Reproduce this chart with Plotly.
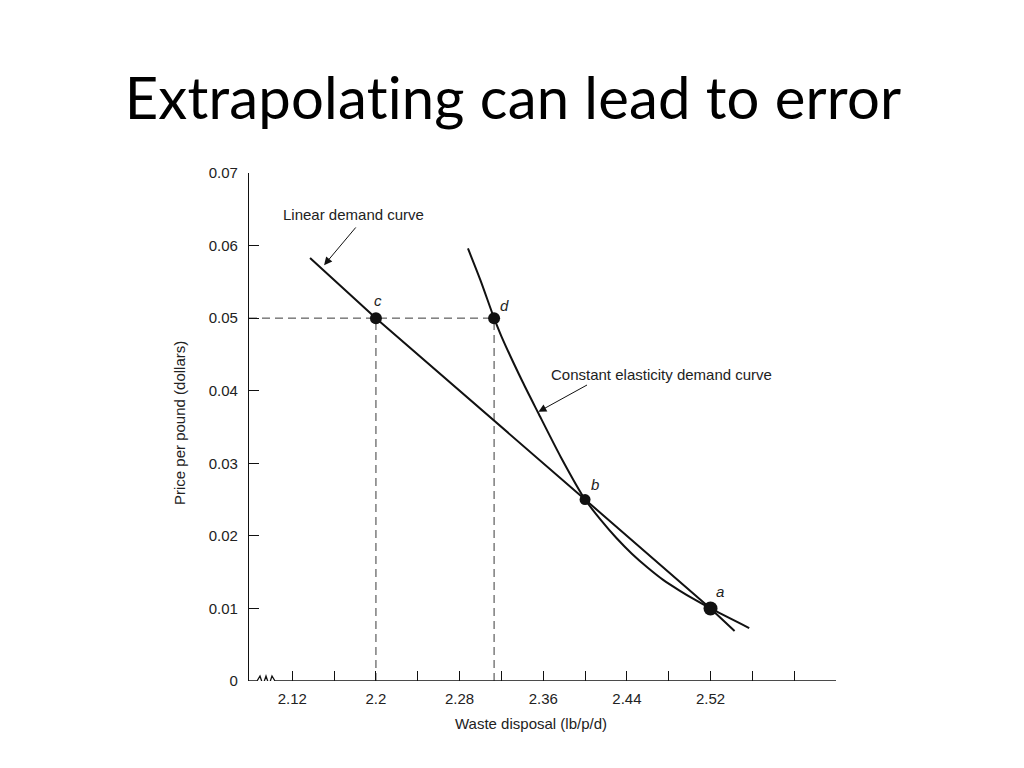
import plotly.graph_objects as go

# ---------------- data ----------------
linear_x = [2.137, 2.200, 2.400, 2.520, 2.543]
linear_y = [0.0583, 0.0500, 0.0250, 0.0100, 0.0069]

elastic_x = [2.288, 2.300, 2.313, 2.320, 2.340, 2.355, 2.377, 2.400,
             2.415, 2.430, 2.445, 2.460, 2.475, 2.490, 2.505, 2.520, 2.557]
elastic_y = [0.0596, 0.0552, 0.0500, 0.0475, 0.0413, 0.0370, 0.0308, 0.0250,
             0.0222, 0.0197, 0.0175, 0.0156, 0.0139, 0.0125, 0.0112, 0.0100, 0.0073]

point_names = ["c", "d", "b", "a"]
point_x = [2.200, 2.313, 2.400, 2.520]
point_y = [0.050, 0.050, 0.025, 0.010]

x_tick_vals = [2.12, 2.16, 2.20, 2.24, 2.28, 2.32, 2.36, 2.40, 2.44, 2.48, 2.52, 2.56, 2.60, 2.64]
x_tick_text = ["2.12", "", "2.2", "", "2.28", "", "2.36", "", "2.44", "", "2.52", "", "", ""]
y_tick_vals = [0, 0.01, 0.02, 0.03, 0.04, 0.05, 0.06, 0.07]
y_tick_text = ["0", "0.01", "0.02", "0.03", "0.04", "0.05", "0.06", "0.07"]

x_range = [2.0786, 2.64]
y_range = [0, 0.07]

title_text = "Extrapolating can lead to error"
x_title = "Waste disposal (lb/p/d)"
y_title = "Price per pound (dollars)"
linear_label = "Linear demand curve"
elastic_label = "Constant elasticity demand curve"

# ---------------- styles ----------------
INK = "#111111"
TXT = "#222222"
FONT = "Liberation Sans, Arial, sans-serif"
marker_sizes = [12, 12, 11, 14]
label_shift = [(2, 18), (10, 13), (10, 15), (9, 17)]

fig = go.Figure()

# dashed guide lines from c and d
c_x, d_x, cd_y = point_x[0], point_x[1], point_y[0]
dash_style = dict(color="#3a3a3a", width=1, dash="8px,5px")
fig.add_trace(go.Scatter(x=[x_range[0], d_x], y=[cd_y, cd_y], mode="lines",
                         line=dash_style, hoverinfo="skip", showlegend=False))
fig.add_trace(go.Scatter(x=[c_x, c_x], y=[0, cd_y], mode="lines",
                         line=dash_style, hoverinfo="skip", showlegend=False))
fig.add_trace(go.Scatter(x=[d_x, d_x], y=[0, cd_y], mode="lines",
                         line=dash_style, hoverinfo="skip", showlegend=False))

# curves
fig.add_trace(go.Scatter(x=linear_x, y=linear_y, mode="lines",
                         line=dict(color=INK, width=2), showlegend=False))
fig.add_trace(go.Scatter(x=elastic_x, y=elastic_y, mode="lines",
                         line=dict(color=INK, width=2, shape="spline", smoothing=0.7),
                         showlegend=False))

# points
fig.add_trace(go.Scatter(x=point_x, y=point_y, mode="markers",
                         marker=dict(color=INK, size=marker_sizes, opacity=1,
                                     line=dict(width=0)),
                         showlegend=False))

annotations = []
for name, px, py, (sx, sy) in zip(point_names, point_x, point_y, label_shift):
    annotations.append(dict(x=px, y=py, xref="x", yref="y", text=f"<i>{name}</i>",
                            showarrow=False, xshift=sx, yshift=sy,
                            font=dict(family=FONT, size=15, color=TXT)))

# curve labels
annotations.append(dict(x=2.1781, y=0.06435, xref="x", yref="y", text=linear_label,
                        xanchor="center", yanchor="middle",
                        showarrow=False, font=dict(family=FONT, size=15, color=TXT)))
annotations.append(dict(x=2.4733, y=0.0423, xref="x", yref="y", text=elastic_label,
                        xanchor="center", yanchor="middle",
                        showarrow=False, font=dict(family=FONT, size=15, color=TXT)))
# arrows
annotations.append(dict(x=2.1504, y=0.0573, ax=2.1819, ay=0.0627, xref="x", yref="y",
                        axref="x", ayref="y", text="", showarrow=True, arrowhead=2,
                        arrowsize=1.6, arrowwidth=1, arrowcolor=INK))
annotations.append(dict(x=2.3554, y=0.0371, ax=2.4033, ay=0.0409, xref="x", yref="y",
                        axref="x", ayref="y", text="", showarrow=True, arrowhead=2,
                        arrowsize=1.6, arrowwidth=1, arrowcolor=INK))

# axis titles
annotations.append(dict(x=0.4804, y=-0.0846, xref="paper", yref="paper", text=x_title,
                        xanchor="center", yanchor="middle",
                        showarrow=False, font=dict(family=FONT, size=15, color=TXT)))
annotations.append(dict(x=-0.1175, y=0.5079, xref="paper", yref="paper", text=y_title,
                        xanchor="center", yanchor="middle",
                        textangle=-90, showarrow=False,
                        font=dict(family=FONT, size=15, color=TXT)))

# x axis baseline with break symbol (pixel path anchored at axis origin)
shapes = [dict(type="path", xref="x", yref="y", xsizemode="pixel", ysizemode="pixel",
               xanchor=x_range[0], yanchor=0,
               path="M0,0 L8,0 L11,5 L14,-4 L17,5 L20,-4 L23,5 L26,0 L587,0",
               line=dict(color=INK, width=1.3), layer="above")]

fig.update_layout(
    width=1024, height=768,
    margin=dict(l=249, r=188, t=173, b=87),
    paper_bgcolor="white", plot_bgcolor="white",
    title=dict(text=title_text, x=0.501, y=0.872, xref="container", yref="container",
               xanchor="center", yanchor="middle",
               font=dict(family="Lato, Carlito, sans-serif", size=58, color="black")),
    annotations=annotations,
    shapes=shapes,
    xaxis=dict(range=x_range, showgrid=False, zeroline=False, showline=False,
               tickmode="array", tickvals=x_tick_vals, ticktext=x_tick_text,
               ticks="inside", ticklen=10, tickwidth=1, tickcolor=INK,
               tickfont=dict(family=FONT, size=15, color=TXT), ticklabelstandoff=7),
    yaxis=dict(range=y_range, showgrid=False, zeroline=False, showline=True,
               linecolor=INK, linewidth=1.3,
               tickmode="array", tickvals=y_tick_vals, ticktext=y_tick_text,
               ticks="inside", ticklen=10, tickwidth=1, tickcolor=INK,
               tickfont=dict(family=FONT, size=15, color=TXT), ticklabelstandoff=7),
)

post = ("document.body.style.margin='0';"
        "var st=document.createElement('style');"
        "st.textContent='.gtitle{font-variant-ligatures:none !important;"
        "font-feature-settings:\"liga\" 0, \"clig\" 0 !important;letter-spacing:0.2px !important;}';"
        "document.head.appendChild(st);")
fig.write_html("out.html", config={"displayModeBar": False}, post_script=post)
